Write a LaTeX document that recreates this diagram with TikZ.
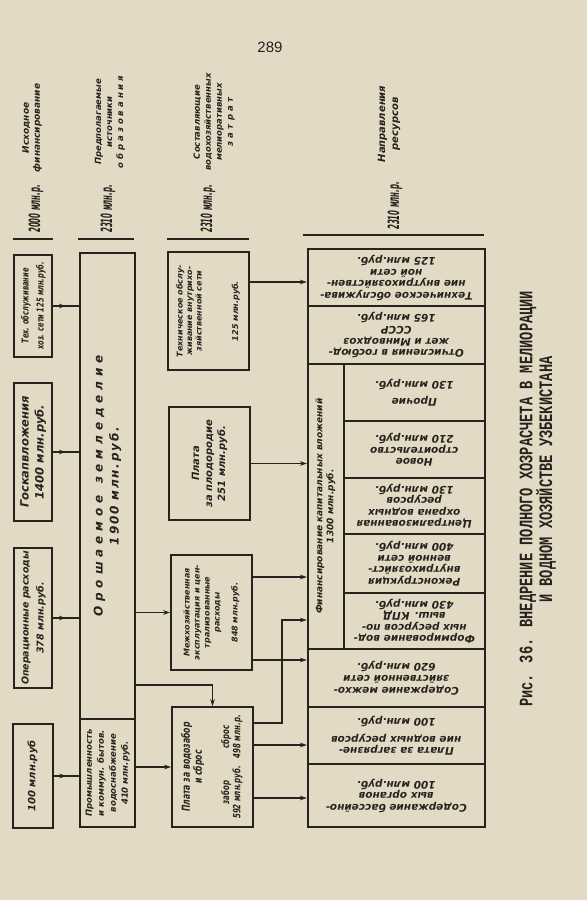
\documentclass[tikz,border=0pt]{standalone}
\usepackage{graphicx}
\usepackage{fontspec}
\newfontfamily\hand{DejaVu Sans}
\newfontfamily\handc[FakeStretch=0.7]{DejaVu Sans}
\newfontfamily\handn[FakeStretch=0.45]{DejaVu Sans}
\newfontfamily\capfont[FakeStretch=0.72]{Liberation Mono}
\newfontfamily\pagefont{Liberation Sans}
\usetikzlibrary{arrows.meta,decorations.markings}
\definecolor{paper}{RGB}{226,218,196}
\definecolor{ink}{RGB}{38,34,30}
\newcommand{\vt}[1]{\rotatebox{90}{\begin{tabular}{@{}c@{}}#1\end{tabular}}}
\newcommand{\ut}[1]{\rotatebox{180}{\begin{tabular}{@{}c@{}}#1\end{tabular}}}
\newcommand{\fsz}[2]{\fontsize{#1}{#2}\selectfont}
\tikzset{
  box/.style={draw=ink, line width=1.5pt, inner sep=0pt, text=ink, font=\hand\bfseries\itshape\fsz{10.5}{11.5}},
  cell/.style={box, anchor=north west, minimum width=141},
  row/.style={box, anchor=north west, minimum width=177},
  vlab/.style={rotate=90, inner sep=0pt, align=center, text=ink},
  sum/.style={vlab, anchor=west, font=\handn\bfseries\itshape\fsz{15.5}{15.5}},
  rule/.style={draw=ink, line width=1.3pt},
  wire/.style={draw=ink, line width=1.2pt},
  arr/.style={wire, -{Stealth[length=7pt,width=4.5pt]}},
  midarr/.style={wire, postaction={decorate},
    decoration={markings, mark=at position 0.5 with {\arrow{Stealth[length=7pt,width=4.5pt]}}}}
}
\begin{document}
\begin{tikzpicture}[x=1pt,y=-1pt]
  \fill[paper] (0,0) rectangle (587,900);
  \useasboundingbox (0,0) rectangle (587,900);

  \node[font=\pagefont\fsz{15}{15}, text=ink] (pg) at (270,47) {289};

  % headings
  \node[vlab, font=\hand\bfseries\itshape\fsz{9}{11}] (h1) at (32,128) {Исходное\\финансирование};
  \node[vlab, font=\hand\bfseries\itshape\fsz{8.5}{11}] (h2) at (110,122) {Предполагаемые\\источники\\{\addfontfeature{LetterSpace=35}образования}};
  \node[vlab, font=\hand\bfseries\itshape\fsz{8.5}{11}] (h3) at (214,122) {Составляющие\\водохозяйственных\\мелиоративных\\{\addfontfeature{LetterSpace=40}затрат}};
  \node[vlab, font=\hand\bfseries\itshape\fsz{10}{13}] (h4) at (389,124) {Направления\\ресурсов};
  \node[sum] (s1) at (36,233) {2000 млн.р.};
  \node[sum] (s2) at (108,233) {2310 млн.р.};
  \node[sum] (s3) at (208,233) {2310 млн.р.};
  \node[sum] (s4) at (395,230) {2310 млн.р.};
  \draw[rule] (13,239) -- (53,239);
  \draw[rule] (78,239) -- (134,239);
  \draw[rule] (167,239) -- (249,239);
  \draw[rule] (303,235) -- (484,235);

  % column 1
  \node[box, minimum width=38, minimum height=102, font=\handc\bfseries\itshape\fsz{9.5}{15}] (texo) at (33,306) {\vt{Тех. обслуживание\\хоз. сети 125 млн.руб.}};
  \node[box, minimum width=38, minimum height=138, font=\hand\bfseries\itshape\fsz{11.5}{15}] (gosk) at (33,452) {\vt{Госкапвложения\\1400 млн.руб.}};
  \node[box, minimum width=38, minimum height=140, font=\hand\bfseries\itshape\fsz{9.5}{15}] (oper) at (33,618) {\vt{Операционные расходы\\378 млн.руб.}};
  \node[box, minimum width=40, minimum height=104, font=\hand\bfseries\itshape\fsz{10}{12}] (sto) at (33,776) {\vt{100 млн.руб}};

  % column 2
  \node[box, minimum width=55, minimum height=466, font=\hand\bfseries\itshape\fsz{12}{16}] (big) at (107.5,486) {\vt{{\addfontfeature{LetterSpace=40}Орошаемое\quad земледелие}\\{\addfontfeature{LetterSpace=15}1900 млн.руб.}}};
  \node[box, minimum width=55, minimum height=108, font=\hand\bfseries\itshape\fsz{8.5}{12}] (prom) at (107.5,773) {\vt{Промышленность\\и коммун. бытов.\\водоснабжение\\410 млн.руб.}};

  % column 3
  \node[box, minimum width=81, minimum height=118, font=\hand\bfseries\itshape\fsz{8}{9.5}] (tob) at (208.5,311) {\vt{Техническое обслу-\\живание внутрихо-\\зяйственной сети\\[27pt]125 млн.руб.}};
  \node[box, minimum width=81, minimum height=113, font=\hand\bfseries\itshape\fsz{10}{13}] (plod) at (209.5,463.5) {\vt{Плата\\за плодородие\\251 млн.руб.}};
  \node[box, minimum width=81, minimum height=115, font=\hand\bfseries\itshape\fsz{8}{10}] (mezh) at (211.5,612.5) {\vt{Межхозяйственная\\эксплуатация и цен-\\трализованные\\расходы\\[8pt]848 млн.руб.}};
  \node[box, minimum width=81, minimum height=120, font=\handc\bfseries\itshape\fsz{10}{11}] (zab) at (212.5,767) {\rotatebox{90}{\begin{tabular}{@{}c@{\hspace{8pt}}c@{}}
    \multicolumn{2}{@{}c@{}}{\fsz{11}{10}Плата за водозабор}\\
    \multicolumn{2}{@{}c@{}}{\fsz{11}{10}и сброс}\\[16pt]
    забор & сброс\\
    592 млн.руб. & 498 млн.р.
  \end{tabular}}};

  % column 4
  \node[row, minimum height=57] (r1) at (307,248) {\ut{Техническое обслужива-\\ние внутрихозяйствен-\\ной сети\\125 млн.руб.}};
  \node[row, minimum height=58] (r2) at (307,305) {\ut{Отчисления в госбюд-\\жет и Минводхоз\\СССР\\165 млн.руб.}};
  \node[box, anchor=north west, minimum width=36, minimum height=285, font=\hand\bfseries\itshape\fsz{9}{11}] (fin) at (307,363) {\vt{Финансирование капитальных вложений\\1300 млн.руб.}};
  \node[cell, minimum height=57] (f1) at (343,363) {\ut{Прочие\\[6pt]130 млн.руб.}};
  \node[cell, minimum height=57] (f2) at (343,420) {\ut{Новое\\строительство\\210 млн.руб.}};
  \node[cell, minimum height=56] (f3) at (343,477) {\ut{Централизованная\\охрана водных\\ресурсов\\130 млн.руб.}};
  \node[cell, minimum height=59] (f4) at (343,533) {\ut{Реконструкция\\внутрихозяйст-\\венной сети\\400 млн.руб.}};
  \node[cell, minimum height=56] (f5) at (343,592) {\ut{Формирование вод-\\ных ресурсов по-\\выш. КПД\\430 млн.руб.}};
  \node[row, minimum height=58] (r3) at (307,648) {\ut{Содержание межхо-\\зяйственной сети\\620 млн.руб.}};
  \node[row, minimum height=57] (r4) at (307,706) {\ut{Плата за загрязне-\\ние водных ресурсов\\[6pt]100 млн.руб.}};
  \node[row, minimum height=63] (r5) at (307,763) {\ut{Содержание бассейно-\\вых органов\\100 млн.руб.}};

  % entry points
  \coordinate (bend) at (212.5,685);
  \coordinate (jog) at (282,723);
  \coordinate (in1) at (307,282);
  \coordinate (in3) at (307,577);
  \coordinate (in4) at (307,660);
  \coordinate (in5) at (307,620);
  \coordinate (in6) at (307,745);
  \coordinate (in7) at (307,798);

  % connectors
  \draw[midarr] (texo.east) -- (texo.east -| big.west);
  \draw[midarr] (gosk.east) -- (gosk.east -| big.west);
  \draw[midarr] (oper.east) -- (oper.east -| big.west);
  \draw[midarr] (sto.east) -- (sto.east -| prom.west);
  \draw[arr] (big.east |- mezh.west) -- (mezh.west);
  \draw[arr] (big.east |- bend) -- (bend) -- (zab.north);
  \draw[arr] (prom.east |- zab.west) -- (zab.west);
  \draw[arr] (tob.east |- in1) -- (in1);
  \draw[arr] (plod.east) -- (plod.east -| fin.west);
  \draw[arr] (mezh.east |- in3) -- (in3);
  \draw[arr] (mezh.east |- in4) -- (in4);
  \draw[arr] (zab.east |- jog) -- (jog) |- (in5);
  \draw[arr] (zab.east |- in6) -- (in6);
  \draw[arr] (zab.east |- in7) -- (in7);

  % caption
  \node[vlab, anchor=west, font=\capfont\bfseries\fsz{19}{19}] (cap1) at (528,707) {Рис. 36. ВНЕДРЕНИЕ ПОЛНОГО ХОЗРАСЧЕТА В МЕЛИОРАЦИИ};
  \node[vlab, anchor=west, font=\capfont\bfseries\fsz{19}{19}] (cap2) at (546,603) {И ВОДНОМ ХОЗЯЙСТВЕ УЗБЕКИСТАНА};
\end{tikzpicture}
\end{document}
